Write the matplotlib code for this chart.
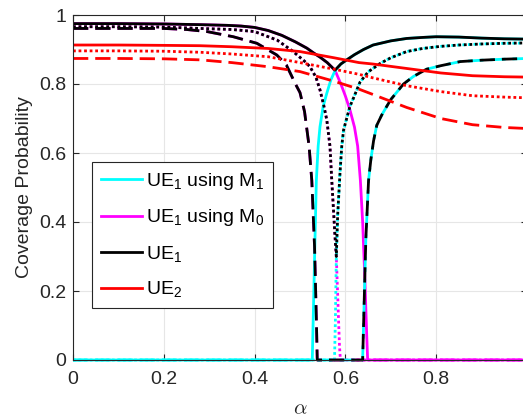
import numpy as np
import matplotlib
matplotlib.use("Agg")
import matplotlib.pyplot as plt
from matplotlib.lines import Line2D

plt.rcParams["font.family"] = ["Liberation Sans", "DejaVu Sans"]
plt.rcParams["font.size"] = 14
plt.rcParams["mathtext.fontset"] = "custom"
plt.rcParams["mathtext.rm"] = "Liberation Sans"
plt.rcParams["mathtext.it"] = "Liberation Sans:italic"

# UE2 (three settings: solid, dotted, dashed)
alpha_ue2 = [0, 0.1, 0.2, 0.28, 0.35, 0.43, 0.5, 0.575, 0.63, 0.66, 0.735, 0.81, 0.88, 0.95, 1.0]
ue2_solid = [0.913, 0.913, 0.912, 0.911, 0.908, 0.903, 0.894, 0.876, 0.862, 0.858, 0.845, 0.832, 0.824, 0.821, 0.82]
ue2_dotted = [0.896, 0.896, 0.895, 0.892, 0.887, 0.879, 0.862, 0.843, 0.828, 0.818, 0.795, 0.778, 0.766, 0.762, 0.760]
ue2_dashed = [0.874, 0.874, 0.873, 0.870, 0.862, 0.850, 0.836, 0.808, 0.785, 0.770, 0.732, 0.700, 0.682, 0.674, 0.671]

# solid setting
m0_solid_a = [0, 0.1, 0.2, 0.28, 0.34, 0.37, 0.40, 0.43, 0.46, 0.49, 0.515, 0.53, 0.545, 0.56, 0.577,
              0.59, 0.60, 0.61, 0.62, 0.627, 0.633, 0.638, 0.643, 0.647, 0.649, 1.0]
m0_solid_y = [0.975, 0.975, 0.974, 0.972, 0.970, 0.968, 0.964, 0.955, 0.941, 0.922, 0.904, 0.89, 0.877, 0.862, 0.84,
              0.80, 0.765, 0.725, 0.675, 0.62, 0.52, 0.40, 0.23, 0.07, 0, 0]
m1_solid_a = [0, 0.527, 0.530, 0.533, 0.536, 0.540, 0.544, 0.551, 0.559, 0.568, 0.577, 0.59, 0.603,
              0.62, 0.64, 0.661, 0.70, 0.735, 0.77, 0.80, 0.85, 0.90, 0.95, 1.0]
m1_solid_y = [0, 0, 0.17, 0.35, 0.52, 0.62, 0.676, 0.735, 0.773, 0.812, 0.838, 0.858, 0.870,
              0.885, 0.90, 0.913, 0.925, 0.932, 0.935, 0.937, 0.936, 0.933, 0.931, 0.93]
ue1_solid_a = [0, 0.1, 0.2, 0.28, 0.34, 0.37, 0.40, 0.43, 0.46, 0.49, 0.515, 0.53, 0.545, 0.56, 0.577,
               0.59, 0.603, 0.62, 0.64, 0.661, 0.70, 0.735, 0.77, 0.80, 0.85, 0.90, 0.95, 1.0]
ue1_solid_y = [0.975, 0.975, 0.974, 0.972, 0.970, 0.968, 0.964, 0.955, 0.941, 0.922, 0.904, 0.89, 0.877, 0.862, 0.84,
               0.858, 0.870, 0.885, 0.90, 0.913, 0.925, 0.932, 0.935, 0.937, 0.936, 0.933, 0.931, 0.93]

# dotted setting
m0_dot_a = [0, 0.1, 0.2, 0.28, 0.35, 0.40, 0.45, 0.485, 0.51, 0.522, 0.535, 0.544, 0.552, 0.559,
            0.566, 0.570, 0.574, 0.577, 0.580, 0.584, 0.587, 0.589, 1.0]
m0_dot_y = [0.966, 0.966, 0.965, 0.961, 0.958, 0.952, 0.927, 0.894, 0.866, 0.85, 0.82, 0.783, 0.74, 0.696,
            0.62, 0.52, 0.43, 0.36, 0.30, 0.15, 0.04, 0, 0]
m1_dot_a = [0, 0.576, 0.578, 0.580, 0.583, 0.588, 0.592, 0.596, 0.61, 0.618, 0.632, 0.65, 0.677,
            0.70, 0.735, 0.77, 0.809, 0.85, 0.90, 0.95, 1.0]
m1_dot_y = [0, 0, 0.12, 0.30, 0.42, 0.54, 0.62, 0.667, 0.735, 0.76, 0.805, 0.835, 0.86,
            0.876, 0.894, 0.903, 0.909, 0.913, 0.916, 0.918, 0.919]
ue1_dot_a = [0, 0.1, 0.2, 0.28, 0.35, 0.40, 0.45, 0.485, 0.51, 0.522, 0.535, 0.544, 0.552, 0.559,
             0.566, 0.570, 0.574, 0.577, 0.580, 0.583, 0.588, 0.592, 0.596, 0.61, 0.618, 0.632, 0.65,
             0.677, 0.70, 0.735, 0.77, 0.809, 0.85, 0.90, 0.95, 1.0]
ue1_dot_y = [0.966, 0.966, 0.965, 0.961, 0.958, 0.952, 0.927, 0.894, 0.866, 0.85, 0.82, 0.783, 0.74, 0.696,
             0.62, 0.52, 0.43, 0.36, 0.30, 0.42, 0.54, 0.62, 0.667, 0.735, 0.76, 0.805, 0.835,
             0.86, 0.876, 0.894, 0.903, 0.909, 0.913, 0.916, 0.918, 0.919]

# dashed setting
m0_dash_a = [0, 0.1, 0.2, 0.25, 0.295, 0.353, 0.405, 0.449, 0.47, 0.49, 0.50, 0.51, 0.52, 0.526,
             0.532, 0.536, 0.538, 1.0]
m0_dash_y = [0.961, 0.961, 0.961, 0.958, 0.952, 0.937, 0.918, 0.884, 0.855, 0.80, 0.775, 0.72, 0.62, 0.52,
             0.33, 0.12, 0, 0]
m1_dash_a = [0, 0.638, 0.641, 0.645, 0.651, 0.656, 0.662, 0.669, 0.68, 0.691, 0.70, 0.728, 0.75,
             0.779, 0.81, 0.853, 0.90, 0.95, 1.0]
m1_dash_y = [0, 0, 0.15, 0.35, 0.52, 0.58, 0.635, 0.68, 0.71, 0.735, 0.755, 0.80, 0.822,
             0.843, 0.853, 0.865, 0.869, 0.872, 0.874]
ue1_dash_a = m0_dash_a[:-1] + m1_dash_a[1:]
ue1_dash_y = m0_dash_y[:-1] + m1_dash_y[1:]

xticks = [0, 0.2, 0.4, 0.6, 0.8, 1]
# the "1" label falls outside the cropped figure in the reference
xticklabels = ["0", "0.2", "0.4", "0.6", "0.8", ""]
yticks = [0, 0.2, 0.4, 0.6, 0.8, 1]
yticklabels = ["0", "0.2", "0.4", "0.6", "0.8", "1"]

CYAN = "#00ffff"
MAGENTA = "#ff00ff"
RED = "#ff0000"
DOT = (0, (1, 1))
DASH = (0, (5.5, 2.5))
LW = 2

fig = plt.figure(figsize=(5.23, 4.17), dpi=100)
ax = fig.add_axes([73 / 523, 57 / 417, 454 / 523, 345 / 417])

kw = dict(lw=LW, clip_on=False, solid_capstyle="butt", dash_capstyle="butt")

# M0 curves (bottom)
ax.plot(m0_solid_a, m0_solid_y, color=MAGENTA, ls="-", **kw)
ax.plot(m0_dot_a, m0_dot_y, color=MAGENTA, ls=DOT, **kw)
ax.plot(m0_dash_a, m0_dash_y, color=MAGENTA, ls=DASH, **kw)
# M1 curves
ax.plot(m1_solid_a, m1_solid_y, color=CYAN, ls="-", **kw)
ax.plot(m1_dot_a, m1_dot_y, color=CYAN, ls=DOT, **kw)
ax.plot(m1_dash_a, m1_dash_y, color=CYAN, ls=DASH, **kw)
# UE1 overall
ax.plot(ue1_solid_a, ue1_solid_y, color="k", ls="-", **kw)
ax.plot(ue1_dot_a, ue1_dot_y, color="k", ls=DOT, **kw)
ax.plot(ue1_dash_a, ue1_dash_y, color="k", ls=DASH, **kw)
# UE2
ax.plot(alpha_ue2, ue2_solid, color=RED, ls="-", **kw)
ax.plot(alpha_ue2, ue2_dotted, color=RED, ls=DOT, **kw)
ax.plot(alpha_ue2, ue2_dashed, color=RED, ls=DASH, **kw)

ax.set_xlim(0, 1)
ax.set_ylim(0, 1)
ax.set_xticks(xticks)
ax.set_xticklabels(xticklabels)
ax.set_yticks(yticks)
ax.set_yticklabels(yticklabels)
ax.grid(True, color="#e6e6e6", lw=0.8)
ax.set_axisbelow(True)
for s in ax.spines.values():
    s.set_color("#262626")
    s.set_linewidth(0.8)
ax.tick_params(direction="in", length=4.5, width=0.8, color="#262626",
               labelcolor="#262626", top=True, right=True, labelsize=14)
ax.tick_params(axis="x", pad=8)
ax.tick_params(axis="y", pad=5)

ax.set_xlabel(r"$\alpha$", math_fontfamily="cm", fontsize=15, color="#262626")
ax.xaxis.set_label_coords(0.5, -0.14)
ax.xaxis.label.set_va("center")
ax.set_ylabel("Coverage Probability", color="#262626")
ax.yaxis.set_label_coords(-0.106, 0.5)
ax.yaxis.label.set_va("center")

handles = [Line2D([], [], color=CYAN, lw=LW),
           Line2D([], [], color=MAGENTA, lw=LW),
           Line2D([], [], color="k", lw=LW),
           Line2D([], [], color=RED, lw=LW)]
labels = [r"UE$_1$ using M$_1$", r"UE$_1$ using M$_0$", r"UE$_1$", r"UE$_2$"]
leg = ax.legend(handles, labels, loc="upper left",
                bbox_to_anchor=(92 / 523, 1 - 162 / 417), bbox_transform=fig.transFigure,
                borderaxespad=0, fontsize=14, handlelength=2.14, handletextpad=0.19,
                labelspacing=0.8, borderpad=0.45, fancybox=False, framealpha=1,
                edgecolor="#262626")
leg.get_frame().set_linewidth(0.8)

fig.savefig("out.png", dpi=100)
